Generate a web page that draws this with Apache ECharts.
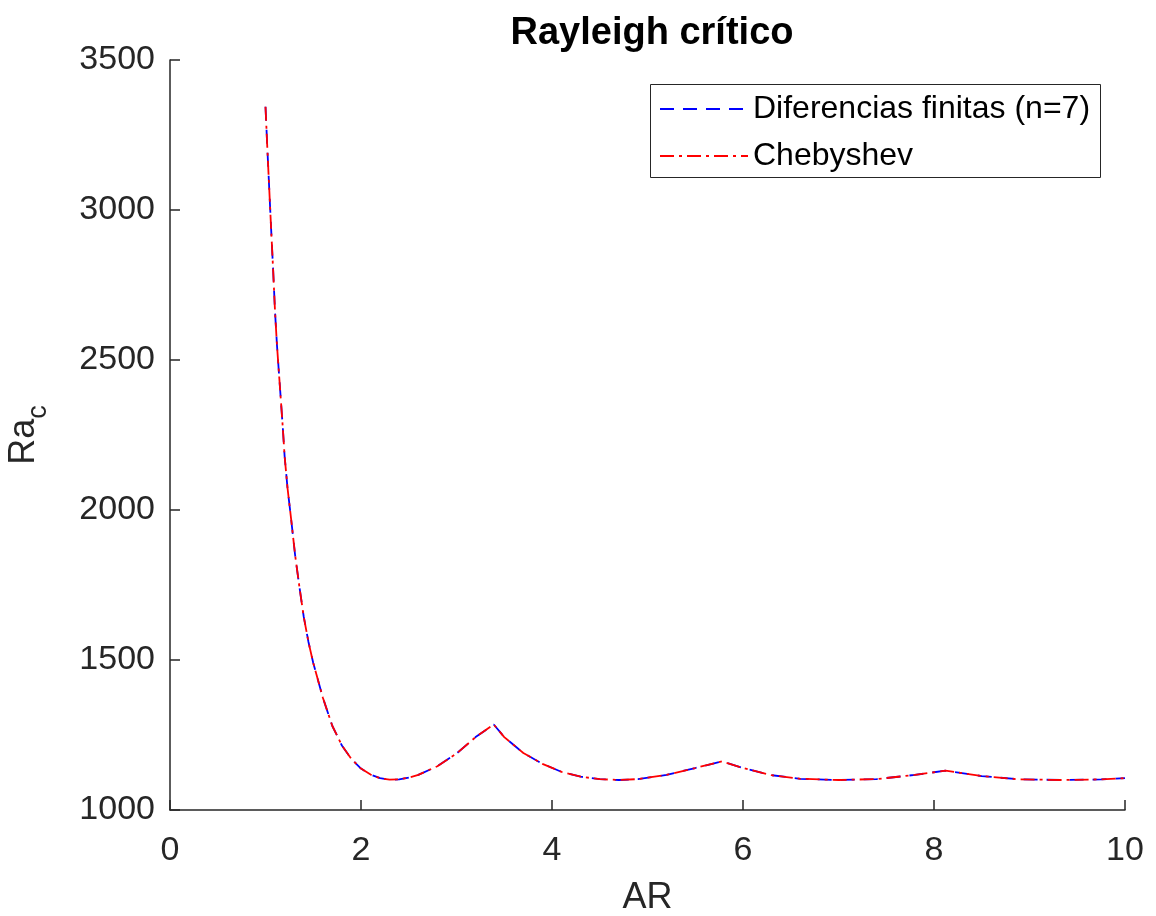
<!DOCTYPE html>
<html>
<head>
<meta charset="utf-8">
<title>Rayleigh crítico</title>
<script src="https://cdn.jsdelivr.net/npm/echarts@6/dist/echarts.min.js"></script>
<style>
  html, body { margin: 0; padding: 0; background: #ffffff; }
  #chart { width: 1156px; height: 916px; }
</style>
</head>
<body>
<div id="chart"></div>
<script>
// Aspect ratio of the cell (AR)
const aspectRatio = [1.00, 1.02, 1.04, 1.06, 1.08, 1.10, 1.12, 1.15, 1.18, 1.20, 1.23, 1.27,
  1.31, 1.35, 1.40, 1.45, 1.50, 1.60, 1.70, 1.80, 1.90, 2.00, 2.10, 2.20, 2.30, 2.40, 2.50,
  2.60, 2.80, 3.00, 3.20, 3.39, 3.50, 3.70, 3.90, 4.10, 4.30, 4.50, 4.70, 4.90, 5.20, 5.50,
  5.78, 6.00, 6.30, 6.60, 7.00, 7.40, 7.80, 8.12, 8.50, 8.90, 9.35, 9.75, 10.00];

// Critical Rayleigh number, finite differences (n = 7)
const raFiniteDiff = [3344, 3200, 3065, 2930, 2800, 2660, 2550, 2415, 2280, 2180, 2075, 1965,
  1850, 1755, 1645, 1560, 1490, 1375, 1280, 1215, 1170, 1138, 1118, 1106, 1101, 1102, 1108,
  1117, 1146, 1188, 1243, 1285, 1243, 1190, 1154, 1127, 1111, 1103, 1100, 1103, 1117, 1140,
  1162, 1140, 1116, 1104, 1100, 1103, 1117, 1131, 1113, 1102, 1100, 1102, 1106];

// Critical Rayleigh number, Chebyshev collocation
const raChebyshev = [3344, 3200, 3065, 2930, 2800, 2660, 2550, 2415, 2280, 2180, 2075, 1965,
  1850, 1755, 1645, 1560, 1490, 1375, 1280, 1215, 1170, 1138, 1118, 1106, 1101, 1102, 1108,
  1117, 1146, 1188, 1243, 1285, 1243, 1190, 1154, 1127, 1111, 1103, 1100, 1103, 1117, 1140,
  1162, 1140, 1116, 1104, 1100, 1103, 1117, 1131, 1113, 1102, 1100, 1102, 1106];

const seriesNames = ['Diferencias finitas (n=7)', 'Chebyshev'];

const pairs = (xs, ys) => xs.map((x, i) => [x, ys[i]]);

const FONT = '"Liberation Sans", Arial, Helvetica, sans-serif';
const AXIS_COLOR = '#262626';

const chart = echarts.init(document.getElementById('chart'), null, { renderer: 'canvas' });

chart.setOption({
  backgroundColor: '#ffffff',
  animation: false,
  title: {
    text: 'Rayleigh crítico',
    left: 647,
    top: 10,
    textAlign: 'center',
    textStyle: { fontFamily: FONT, fontSize: 38, fontWeight: 'bold', color: '#000000' }
  },
  grid: { left: 170, right: 31, top: 60, bottom: 106, containLabel: false, outerBoundsMode: 'none' },
  xAxis: {
    type: 'value',
    min: 0, max: 10, interval: 2,
    name: 'AR',
    nameLocation: 'middle',
    nameGap: 70,
    nameTextStyle: { fontFamily: FONT, fontSize: 36, color: AXIS_COLOR },
    axisLine: { show: true, onZero: false, lineStyle: { color: AXIS_COLOR, width: 1.5 } },
    axisTick: { show: true, inside: true, length: 10, lineStyle: { color: AXIS_COLOR, width: 1.5 } },
    axisLabel: { fontFamily: FONT, fontSize: 34, color: AXIS_COLOR, margin: 24, formatter: v => String(v) },
    splitLine: { show: false }
  },
  yAxis: {
    type: 'value',
    min: 1000, max: 3500, interval: 500,
    name: '{a|Ra}{b|c}',
    nameLocation: 'middle',
    nameRotate: 90,
    nameGap: 118,
    nameTextStyle: {
      rich: {
        a: { fontFamily: FONT, fontSize: 36, color: AXIS_COLOR, lineHeight: 56, verticalAlign: 'middle' },
        b: { fontFamily: FONT, fontSize: 27, color: AXIS_COLOR, lineHeight: 56, verticalAlign: 'bottom' }
      }
    },
    axisLine: { show: true, onZero: false, lineStyle: { color: AXIS_COLOR, width: 1.5 } },
    axisTick: { show: true, inside: true, length: 10, lineStyle: { color: AXIS_COLOR, width: 1.5 } },
    axisLabel: { fontFamily: FONT, fontSize: 34, color: AXIS_COLOR, margin: 15, formatter: v => String(v) },
    splitLine: { show: false }
  },
  legend: {
    orient: 'vertical',
    left: 650,
    top: 84,
    padding: [9, 9, 9, 9],
    itemWidth: 88,
    itemHeight: 30,
    itemGap: 15,
    borderWidth: 0,
    itemStyle: { color: 'rgba(0,0,0,0)', borderWidth: 0 },
    textStyle: { fontFamily: FONT, fontSize: 32, color: '#000000' },
    data: seriesNames
  },
  graphic: [
    {
      // legend frame
      type: 'rect',
      left: 650,
      top: 84,
      z: -1,
      shape: { width: 450, height: 93 },
      style: { fill: '#ffffff', stroke: AXIS_COLOR, lineWidth: 1 }
    }
  ],
  series: [
    {
      name: seriesNames[0],
      type: 'line',
      data: pairs(aspectRatio, raFiniteDiff),
      symbol: 'none',
      lineStyle: { color: '#0000ff', width: 1.8, type: [14, 9] },
      itemStyle: { color: '#0000ff' },
      z: 2
    },
    {
      name: seriesNames[1],
      type: 'line',
      data: pairs(aspectRatio, raChebyshev),
      symbol: 'none',
      lineStyle: { color: '#ff0000', width: 1.8, type: [14, 5, 3, 5] },
      itemStyle: { color: '#ff0000' },
      z: 3
    }
  ]
});
</script>
</body>
</html>
